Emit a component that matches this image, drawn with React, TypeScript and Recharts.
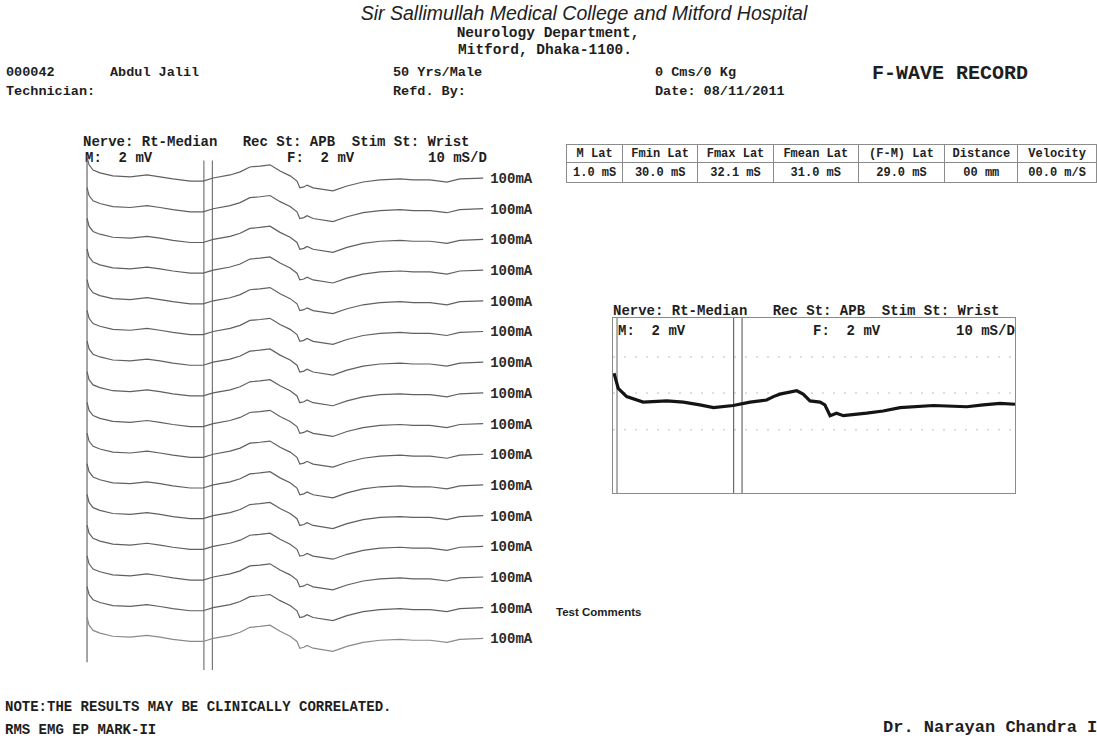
import React from 'react';
import { LineChart, Line, XAxis, YAxis, ReferenceLine } from 'recharts';

// ---- Record data ----
const mLat = 1.0;
const fMinLat = 30.0;
const fMaxLat = 32.1;

const tableHeaders = ['M Lat', 'Fmin Lat', 'Fmax Lat', 'Fmean Lat', '(F-M) Lat', 'Distance', 'Velocity'];
const tableValues = ['1.0 mS', '30.0 mS', '32.1 mS', '31.0 mS', '29.0 mS', '00 mm', '00.0 m/S'];

// Raster traces (left): sample times (ms) and waveform amplitude
const rasterTimes = [1.0, 1.5, 2.5, 4.2, 7.4, 11.7, 15.9, 19.1, 22.3, 26.6, 29.8, 32.3, 36.5, 39.0, 41.4, 43.9, 46.4, 48.9, 51.4, 53.1, 53.8, 54.8, 55.6, 57.1, 62.0, 65.5, 69.5, 73.7, 78.7, 81.9, 86.1, 90.3, 93.5, 99.3];
const rasterWave = [7.2, 4.6, 2.9, 2.0, 1.0, 0.7, 1.3, 0.7, 0, -0.7, -0.7, 0.3, 1.3, 2.3, 3.9, 4.2, 4.6, 2.6, 1.0, -0.7, -2.9, -2.6, -2.0, -2.9, -3.9, -2.3, -1.0, -0.3, 0, -0.3, -0.3, -1.0, 0, 0.3];
// baseline of each of the 16 stacked sweeps
const sweepBaselines = [0, -10, -20, -30, -40, -50, -60, -70, -80, -90, -100, -110, -120, -130, -140, -150];
const sweepStimulus = [100, 100, 100, 100, 100, 100, 100, 100, 100, 100, 100, 100, 100, 100, 100, 100];

// Averaged trace (right)
const avgTimes = [0.25, 1.3, 3.4, 7.5, 13.4, 17.5, 21.6, 25.0, 29.9, 34.1, 38.2, 39.9, 41.5, 45.7, 47.3, 49.0, 51.5, 52.7, 54.0, 55.6, 57.3, 63.1, 67.2, 71.4, 79.7, 88.0, 92.1, 96.3, 100];
const avgWave = [9.0, 4.1, 1.4, -0.4, 0, -0.4, -1.3, -2.2, -1.5, -0.4, 0.3, 1.4, 2.2, 3.3, 2.2, 0, -0.4, -1.3, -4.8, -4.0, -4.8, -4.0, -3.3, -2.2, -1.5, -1.9, -1.3, -0.8, -1.1];
const avgGridLevels = [14.3, 2.6, -9.4];

const rasterRows = rasterTimes.map((t, i) => {
  const row: Record<string, number> = { t };
  sweepBaselines.forEach((b, k) => {
    row['s' + k] = rasterWave[i] + b;
  });
  return row;
});
const avgRows = avgTimes.map((t, i) => ({ t, v: avgWave[i] }));

const MONO = '"Liberation Mono", "DejaVu Sans Mono", monospace';
const SANS = '"Liberation Sans", Arial, sans-serif';

type TP = {
  x: number; cy: number; size: number; children: React.ReactNode;
  family?: string; weight?: number | string; italic?: boolean; center?: boolean; color?: string;
};
const T = ({ x, cy, size, children, family = MONO, weight = 700, italic = false, center = false, color = '#1e1e1e' }: TP) => (
  <div
    style={{
      position: 'absolute',
      left: x,
      top: cy - size * (family === MONO ? 0.45 : 0.5),
      fontFamily: family,
      fontSize: size,
      fontWeight: weight as any,
      fontStyle: italic ? 'italic' : 'normal',
      lineHeight: 1,
      whiteSpace: 'pre',
      color,
      transform: center ? 'translateX(-50%)' : undefined,
    }}
  >
    {children}
  </div>
);

const lastIdx = rasterTimes.length - 1;

const makeLabel = (k: number) => (props: any) => {
  if (props.index !== lastIdx) return <g />;
  return (
    <text
      x={props.x + 7}
      y={props.y + 1}
      dominantBaseline="central"
      fontFamily={MONO}
      fontWeight={700}
      fontSize={14}
      fill="#2a2a2a"
    >
      {sweepStimulus[k] + 'mA'}
    </text>
  );
};

const colW = [57, 76, 77, 86, 88, 74, 80];

export default function App() {
  return (
    <div style={{ position: 'absolute', left: 0, top: 0, width: 1097, height: 740, background: '#fff', overflow: 'hidden' }}>
      {/* Header */}
      <T x={584} cy={14} size={19.5} family={SANS} weight={400} italic center color="#222">Sir Sallimullah Medical College and Mitford Hospital</T>
      <T x={548} cy={33} size={14.5} center>Neurology Department,</T>
      <T x={545} cy={50} size={14.5} center>Mitford, Dhaka-1100.</T>

      <T x={6} cy={72} size={13.5}>000042</T>
      <T x={110} cy={72} size={13.5}>Abdul Jalil</T>
      <T x={393} cy={72} size={13.5}>50 Yrs/Male</T>
      <T x={655} cy={72} size={13.5}>0 Cms/0 Kg</T>
      <T x={872} cy={73} size={20}>F-WAVE RECORD</T>

      <T x={6} cy={91} size={13.5}>Technician:</T>
      <T x={393} cy={91} size={13.5}>Refd. By:</T>
      <T x={655} cy={91} size={13.5}>Date: 08/11/2011</T>

      {/* Left panel labels */}
      <T x={83} cy={141} size={14}>Nerve: Rt-Median   Rec St: APB  Stim St: Wrist</T>
      <T x={85} cy={157} size={14}>M:  2 mV</T>
      <T x={287} cy={157} size={14}>F:  2 mV</T>
      <T x={428} cy={157} size={14}>10 mS/D</T>

      {/* Left raster chart */}
      <div style={{ position: 'absolute', left: 83, top: 150 }}>
        <LineChart width={460} height={520} data={rasterRows} margin={{ top: 4.4, right: 57, bottom: 0, left: 0 }}>
          <XAxis type="number" dataKey="t" domain={[0, 100]} hide allowDataOverflow />
          <YAxis type="number" domain={[-160, 8]} hide allowDataOverflow />
          <ReferenceLine segment={[{ x: mLat, y: 6 }, { x: mLat, y: -157.5 }]} stroke="#6a6a6a" strokeWidth={1.2} />
          <ReferenceLine segment={[{ x: fMinLat, y: 6 }, { x: fMinLat, y: -160 }]} stroke="#6a6a6a" strokeWidth={1.1} />
          <ReferenceLine segment={[{ x: fMaxLat, y: 6 }, { x: fMaxLat, y: -160 }]} stroke="#6a6a6a" strokeWidth={1.1} />
          {sweepBaselines.map((_, k) => (
            <Line
              key={k}
              type="linear"
              dataKey={'s' + k}
              stroke={k === sweepBaselines.length - 1 ? '#8a8a8a' : '#606060'}
              strokeWidth={1.2}
              dot={false}
              isAnimationActive={false}
              label={makeLabel(k)}
            />
          ))}
        </LineChart>
      </div>

      {/* Table */}
      <table
        style={{
          position: 'absolute', left: 566, top: 144, borderCollapse: 'collapse', tableLayout: 'fixed',
          fontFamily: MONO, fontWeight: 700, fontSize: 12, color: '#222',
        }}
      >
        <colgroup>
          {colW.map((w, i) => <col key={i} style={{ width: w }} />)}
        </colgroup>
        <tbody>
          <tr>
            {tableHeaders.map((h, i) => (
              <td key={i} style={{ border: '1.5px solid #8c8c8c', height: 17, padding: 0, textAlign: 'center', whiteSpace: 'pre' }}>{h}</td>
            ))}
          </tr>
          <tr>
            {tableValues.map((h, i) => (
              <td key={i} style={{ border: '1.5px solid #8c8c8c', height: 19, padding: 0, textAlign: 'center', whiteSpace: 'pre' }}>{h}</td>
            ))}
          </tr>
        </tbody>
      </table>

      {/* Right panel */}
      <T x={613} cy={310} size={14}>Nerve: Rt-Median   Rec St: APB  Stim St: Wrist</T>
      <div style={{ position: 'absolute', left: 612, top: 317, width: 404, height: 177, border: '1.5px solid #8a8a8a', boxSizing: 'border-box' }} />
      <T x={618} cy={330} size={14}>M:  2 mV</T>
      <T x={813} cy={330} size={14}>F:  2 mV</T>
      <T x={956} cy={330} size={14}>10 mS/D</T>
      <div style={{ position: 'absolute', left: 613, top: 318 }}>
        <LineChart width={402} height={175} data={avgRows} margin={{ top: 0, right: 0, bottom: 0, left: 0 }}>
          <XAxis type="number" dataKey="t" domain={[0, 100]} hide allowDataOverflow />
          <YAxis type="number" domain={[-30, 27]} hide allowDataOverflow />
          {avgGridLevels.map((g, i) => (
            <ReferenceLine key={i} y={g} stroke="#d4d4d4" strokeDasharray="2 9" strokeWidth={1.5} />
          ))}
          <ReferenceLine x={mLat} stroke="#7a7a7a" strokeWidth={1.2} />
          <ReferenceLine x={fMinLat} stroke="#6a6a6a" strokeWidth={1.2} />
          <ReferenceLine x={fMaxLat} stroke="#6a6a6a" strokeWidth={1.2} />
          <Line type="linear" dataKey="v" stroke="#141414" strokeWidth={3.2} dot={false} isAnimationActive={false} />
        </LineChart>
      </div>

      <T x={556} cy={613} size={11.5} family={SANS} weight={700}>Test Comments</T>

      {/* Footer */}
      <T x={5} cy={706} size={14}>NOTE:THE RESULTS MAY BE CLINICALLY CORRELATED.</T>
      <T x={5} cy={729} size={14}>RMS EMG EP MARK-II</T>
      <T x={883} cy={727} size={17}>Dr. Narayan Chandra I</T>
    </div>
  );
}
